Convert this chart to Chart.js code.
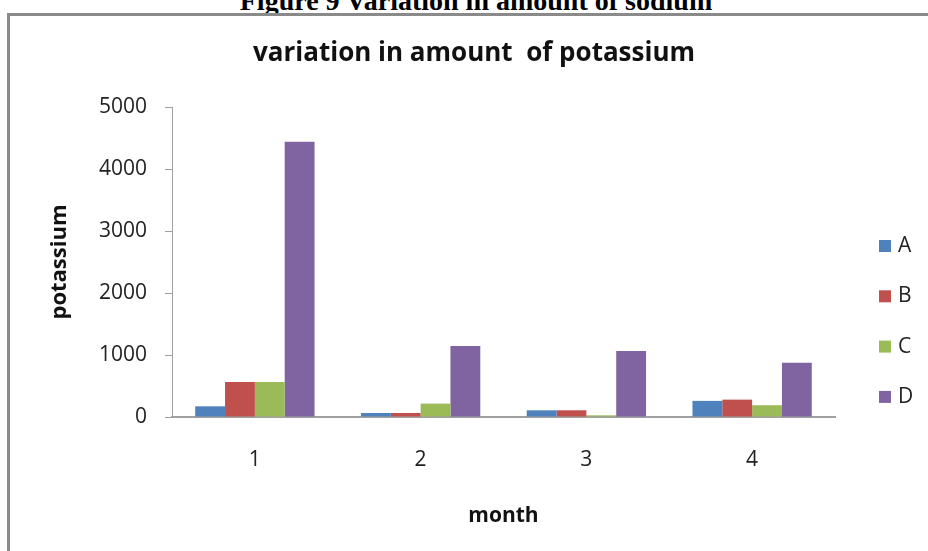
<!DOCTYPE html>
<html>
<head>
<meta charset="utf-8">
<script src="https://cdn.jsdelivr.net/npm/chart.js@4/dist/chart.umd.min.js"></script>
<style>
  body { margin: 0; background: #fff; overflow: hidden; }
  #wrap { position: relative; width: 928px; height: 551px; overflow: hidden; }
  #heading {
    position: absolute; left: 12px; top: -15px; width: 928px; text-align: center;
    font-family: "Liberation Serif", serif; font-weight: bold; font-size: 28px; line-height: 32px; color: #000;
  }
  #frameTop { position: absolute; left: 7px; top: 13px; width: 930px; height: 3px; background: #8a8a8a; }
  #frameLeft { position: absolute; left: 7px; top: 13px; width: 3px; height: 540px; background: #8a8a8a; }
  #myChart { position: absolute; left: 0; top: 0; }
</style>
</head>
<body>
<div id="wrap">
  <div id="heading">Figure 9 Variation in amount of sodium</div>
  <div id="frameTop"></div>
  <div id="frameLeft"></div>
  <canvas id="myChart" width="928" height="551"></canvas>
</div>
<script>
const months = ['1', '2', '3', '4'];
const seriesA = [172, 65, 108, 260];
const seriesB = [565, 65, 108, 280];
const seriesC = [565, 216, 27, 190];
const seriesD = [4440, 1145, 1065, 877];
const seriesNames = ['A', 'B', 'C', 'D'];
const seriesColors = ['#4F81BD', '#C0504D', '#9BBB59', '#8064A2'];
const chartTitle = 'variation in amount  of potassium';

const fontFamily = '"Open Sans", sans-serif';

// title sits a little left of the plot centre, legend down the right side
const titleAndLegend = {
    id: 'titleAndLegend',
    afterDraw(chart) {
        const c = chart.ctx;
        c.save();
        c.fillStyle = '#111';
        c.font = 'bold 26px ' + fontFamily;
        c.textAlign = 'center';
        c.textBaseline = 'middle';
        c.fillText(chartTitle, 474, 54);

        c.font = '21px ' + fontFamily;
        c.textAlign = 'left';
        chart.data.datasets.forEach((ds, i) => {
            const y = 246 + i * 50.3;
            c.fillStyle = ds.backgroundColor;
            c.fillRect(879, y - 6, 12, 12);
            c.fillStyle = '#222';
            c.fillText(ds.label, 898, y);
        });
        c.restore();
    }
};

const ctx = document.getElementById('myChart').getContext('2d');
const myChart = new Chart(ctx, {
    type: 'bar',
    data: {
        labels: months,
        datasets: [seriesA, seriesB, seriesC, seriesD].map((vals, i) => ({
            label: seriesNames[i],
            data: vals,
            backgroundColor: seriesColors[i],
            barPercentage: 1,
            categoryPercentage: 0.72
        }))
    },
    options: {
        responsive: false,
        animation: false,
        layout: {
            padding: { left: 0, right: 93, top: 107, bottom: 0 }
        },
        plugins: {
            legend: { display: false },
            tooltip: { enabled: false },
            title: { display: false }
        },
        scales: {
            x: {
                grid: { display: false, drawTicks: false },
                border: { display: true, color: '#a0a0a0', width: 2 },
                ticks: { color: '#222', font: { family: fontFamily, size: 21 }, padding: 30 },
                title: {
                    display: true,
                    text: 'month',
                    color: '#111',
                    font: { family: fontFamily, size: 21, weight: 'bold' },
                    padding: { top: 0, bottom: 22 }
                },
                afterFit(scale) { scale.height = 134; }
            },
            y: {
                min: 0,
                max: 5000,
                ticks: {
                    stepSize: 1000,
                    color: '#222',
                    font: { family: fontFamily, size: 21 },
                    padding: 18,
                    callback: (v) => String(v)
                },
                grid: { drawOnChartArea: false, tickLength: 7, color: '#a0a0a0' },
                border: { color: '#a0a0a0' },
                title: {
                    display: true,
                    text: 'potassium',
                    color: '#111',
                    font: { family: fontFamily, size: 22, weight: 'bold' },
                    padding: { top: 47, bottom: 0 }
                },
                afterFit(scale) { scale.width = 172; }
            }
        }
    },
    plugins: [titleAndLegend]
});
</script>
</body>
</html>
